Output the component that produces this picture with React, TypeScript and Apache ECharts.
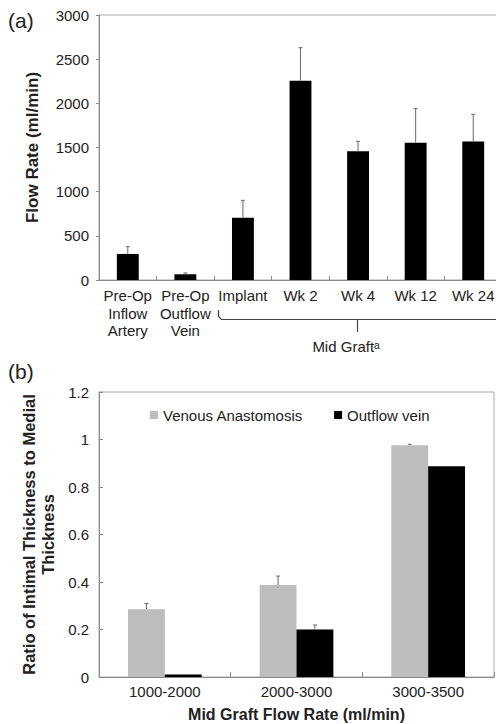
import React, { useEffect, useRef } from "react";
import * as echarts from "echarts";

// ---- Panel (a) data ----
const flowCategories = [
  "Pre-Op\nInflow\nArtery",
  "Pre-Op\nOutflow\nVein",
  "Implant",
  "Wk 2",
  "Wk 4",
  "Wk 12",
  "Wk 24",
];
const flowMean = [295, 65, 705, 2255, 1457, 1555, 1567];
const flowUpper = [377, 80, 902, 2630, 1570, 1940, 1876];
const flowTicks = [0, 500, 1000, 1500, 2000, 2500, 3000];

// ---- Panel (b) data ----
const rateCategories = ["1000-2000", "2000-3000", "3000-3500"];
const venousMean = [0.285, 0.387, 0.976];
const venousUpper = [0.31, 0.425, 0.98];
const outflowMean = [0.011, 0.2, 0.887];
const outflowUpper: (number | null)[] = [null, 0.219, null];
const ratioTicks = [0, 0.2, 0.4, 0.6, 0.8, 1, 1.2];

const FONT = "'Liberation Sans', Arial, Helvetica, sans-serif";
const TXT = "#222";
const AXIS = "#8a8a8a";
const FRAME = "#a8a8a8";
const ERR = "#6a6a6a";

function errorSeries(
  name: string,
  xAxisIndex: number,
  yAxisIndex: number,
  means: number[],
  uppers: (number | null)[],
  offsetFrac: number
) {
  const data = means
    .map((m, i) => (uppers[i] == null ? null : [i, m, uppers[i] as number]))
    .filter((d) => d !== null);
  return {
    type: "custom",
    name,
    xAxisIndex,
    yAxisIndex,
    z: 10,
    silent: true,
    encode: { x: 0, y: [1, 2] },
    data,
    renderItem: (_params: any, api: any) => {
      const x = api.value(0);
      const m = api.value(1);
      const u = api.value(2);
      const p0 = api.coord([x, m]);
      const p1 = api.coord([x, u]);
      const bw = api.size([1, 0])[0];
      const cx = p0[0] + offsetFrac * bw;
      return {
        type: "group",
        children: [
          {
            type: "line",
            shape: { x1: cx, y1: p0[1], x2: cx, y2: p1[1] },
            style: { stroke: ERR, lineWidth: 1 },
          },
          {
            type: "line",
            shape: { x1: cx - 2, y1: p1[1], x2: cx + 2, y2: p1[1] },
            style: { stroke: ERR, lineWidth: 1 },
          },
        ],
      };
    },
  };
}

export default function App() {
  const ref = useRef<HTMLDivElement>(null);

  useEffect(() => {
    if (!ref.current) return;
    const chart = echarts.init(ref.current, undefined, { renderer: "svg" });
    const barFrac = 0.28;

    const option: any = {
      animation: false,
      backgroundColor: "#ffffff",
      textStyle: { fontFamily: FONT },
      legend: {
        show: true,
        data: ["Venous Anastomosis", "Outflow vein"],
        left: 145,
        top: 401,
        itemWidth: 8,
        itemHeight: 8,
        itemGap: 31,
        icon: "rect",
        textStyle: { fontFamily: FONT, fontSize: 15, color: TXT, lineHeight: 18 },
      },
      grid: [
        {
          left: 99,
          top: 15,
          width: 403,
          height: 265,
          outerBoundsMode: "none",
          containLabel: false,
          show: true,
          borderColor: FRAME,
          borderWidth: 1,
          backgroundColor: "transparent",
        },
        {
          left: 99,
          top: 392,
          width: 395,
          height: 285,
          outerBoundsMode: "none",
          containLabel: false,
          show: true,
          borderColor: FRAME,
          borderWidth: 1,
          backgroundColor: "transparent",
        },
      ],
      xAxis: [
        {
          type: "category",
          gridIndex: 0,
          data: flowCategories,
          axisLine: { lineStyle: { color: AXIS, width: 1 } },
          axisTick: { show: true, inside: true, length: 4, lineStyle: { color: AXIS } },
          axisLabel: {
            interval: 0,
            margin: 7,
            fontFamily: FONT,
            fontSize: 15,
            lineHeight: 17.5,
            color: TXT,
          },
        },
        {
          type: "category",
          gridIndex: 1,
          data: rateCategories,
          axisLine: { lineStyle: { color: AXIS, width: 1 } },
          axisTick: { show: true, inside: true, length: 5, lineStyle: { color: AXIS } },
          axisLabel: {
            interval: 0,
            margin: 7,
            fontFamily: FONT,
            fontSize: 15,
            color: TXT,
          },
          name: "Mid Graft Flow Rate (ml/min)",
          nameLocation: "middle",
          nameGap: 28,
          nameTextStyle: {
            fontFamily: FONT,
            fontSize: 16,
            fontWeight: "bold",
            color: TXT,
            lineHeight: 18,
          },
        },
      ],
      yAxis: [
        {
          type: "value",
          gridIndex: 0,
          min: flowTicks[0],
          max: flowTicks[flowTicks.length - 1],
          interval: flowTicks[1] - flowTicks[0],
          splitLine: { show: false },
          axisLine: { show: true, lineStyle: { color: AXIS, width: 1 } },
          axisTick: { show: true, length: 3, lineStyle: { color: AXIS } },
          axisLabel: {
            margin: 10,
            fontFamily: FONT,
            fontSize: 15,
            color: TXT,
            formatter: (v: number) => String(v),
          },
          name: "Flow Rate (ml/min)",
          nameLocation: "middle",
          nameRotate: 90,
          nameGap: 57,
          nameTextStyle: {
            fontFamily: FONT,
            fontSize: 17,
            fontWeight: "bold",
            color: TXT,
            lineHeight: 20,
          },
        },
        {
          type: "value",
          gridIndex: 1,
          min: ratioTicks[0],
          max: ratioTicks[ratioTicks.length - 1],
          interval: 0.2,
          splitLine: { show: false },
          axisLine: { show: true, lineStyle: { color: AXIS, width: 1 } },
          axisTick: { show: true, inside: true, length: 4, lineStyle: { color: AXIS } },
          axisLabel: {
            margin: 10,
            fontFamily: FONT,
            fontSize: 15,
            color: TXT,
            formatter: (v: number) => String(Math.round(v * 10) / 10),
          },
          name: "Ratio of Intimal Thickness to Medial\nThickness",
          nameLocation: "middle",
          nameRotate: 90,
          nameGap: 42,
          nameTextStyle: {
            fontFamily: FONT,
            fontSize: 16.5,
            fontWeight: "bold",
            color: TXT,
            lineHeight: 19,
            align: "center",
          },
        },
      ],
      series: [
        {
          type: "bar",
          name: "Flow",
          xAxisIndex: 0,
          yAxisIndex: 0,
          data: flowMean,
          barWidth: "38%",
          itemStyle: { color: "#000000" },
        },
        errorSeries("FlowErr", 0, 0, flowMean, flowUpper, 0),
        {
          type: "bar",
          name: "Venous Anastomosis",
          xAxisIndex: 1,
          yAxisIndex: 1,
          data: venousMean,
          barWidth: barFrac * 100 + "%",
          barGap: "0%",
          itemStyle: { color: "#bdbdbd" },
        },
        {
          type: "bar",
          name: "Outflow vein",
          xAxisIndex: 1,
          yAxisIndex: 1,
          data: outflowMean,
          barWidth: barFrac * 100 + "%",
          barGap: "0%",
          itemStyle: { color: "#000000" },
        },
        errorSeries("VenErr", 1, 1, venousMean, venousUpper, -barFrac / 2),
        errorSeries("OutErr", 1, 1, outflowMean, outflowUpper, barFrac / 2),
      ],
      graphic: [
        {
          type: "text",
          left: 8,
          top: 10,
          style: { text: "(a)", fontFamily: FONT, fontSize: 21, fill: TXT },
        },
        {
          type: "text",
          left: 8,
          top: 361,
          style: { text: "(b)", fontFamily: FONT, fontSize: 21, fill: TXT },
        },
        {
          type: "polyline",
          shape: {
            points: [
              [218.5, 310],
              [218.5, 316.5],
              [221.5, 319.5],
              [500, 319.5],
            ],
          },
          style: { stroke: "#444", lineWidth: 1.2, fill: "none" },
        },
        {
          type: "line",
          shape: { x1: 357.5, y1: 319.5, x2: 357.5, y2: 332 },
          style: { stroke: "#444", lineWidth: 1.2 },
        },
        {
          type: "text",
          x: 346,
          y: 346,
          style: {
            text: "Mid Graftᵃ",
            fontFamily: FONT,
            fontSize: 15,
            fill: TXT,
            textAlign: "center",
            textVerticalAlign: "middle",
          },
        },
      ],
    };

    chart.setOption(option);
    return () => chart.dispose();
  }, []);

  return (
    <div
      ref={ref}
      style={{ position: "absolute", left: 0, top: 0, width: 496, height: 724 }}
    />
  );
}
